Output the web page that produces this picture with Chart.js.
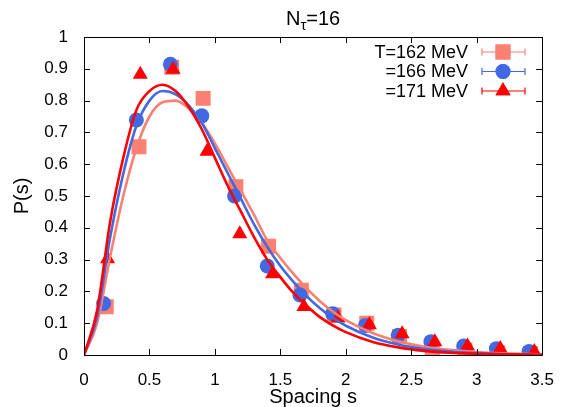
<!DOCTYPE html>
<html>
<head>
<meta charset="utf-8">
<script src="https://cdn.jsdelivr.net/npm/chart.js@4/dist/chart.umd.min.js"></script>
<style>
  html, body { margin: 0; padding: 0; background: #fff; }
  #wrap { width: 561px; height: 407px; }
</style>
</head>
<body>
<div id="wrap"><canvas id="spacingChart" width="561" height="407"></canvas></div>
<script>
// measured points (spacing s, P(s)) for each temperature
const s162 = [0.17, 0.42, 0.67, 0.91, 1.16, 1.41, 1.66, 1.91, 2.16, 2.41, 2.66, 2.91, 3.16, 3.41];
const p162 = [0.152, 0.655, 0.905, 0.807, 0.529, 0.342, 0.204, 0.126, 0.100, 0.058, 0.020, 0.015, 0.007, 0.005];
const s166 = [0.15, 0.40, 0.66, 0.90, 1.15, 1.40, 1.65, 1.90, 2.15, 2.40, 2.65, 2.90, 3.15, 3.40];
const p166 = [0.162, 0.739, 0.914, 0.752, 0.500, 0.280, 0.189, 0.130, 0.093, 0.062, 0.042, 0.028, 0.020, 0.011];
const s171 = [0.18, 0.43, 0.68, 0.94, 1.19, 1.44, 1.68, 1.94, 2.18, 2.43, 2.68, 2.93, 3.18, 3.44];
const p171 = [0.302, 0.882, 0.898, 0.640, 0.381, 0.255, 0.152, 0.116, 0.095, 0.066, 0.041, 0.028, 0.020, 0.010];

// fit curves
const fitS   = [0, 0.1, 0.2, 0.3, 0.4, 0.5, 0.6, 0.7, 0.8, 0.9, 1.0, 1.1, 1.2, 1.3, 1.4, 1.5, 1.6, 1.7, 1.8, 1.9, 2.0, 2.2, 2.4, 2.6, 2.8, 3.0, 3.2, 3.5];
const fit162 = [0, 0.10, 0.31, 0.50, 0.65, 0.75, 0.795, 0.80, 0.775, 0.73, 0.665, 0.59, 0.515, 0.44, 0.36, 0.305, 0.255, 0.21, 0.17, 0.137, 0.11, 0.07, 0.043, 0.026, 0.016, 0.009, 0.005, 0.002];
const fit166 = [0, 0.12, 0.37, 0.57, 0.72, 0.80, 0.83, 0.82, 0.785, 0.73, 0.65, 0.57, 0.49, 0.41, 0.34, 0.28, 0.23, 0.185, 0.148, 0.117, 0.092, 0.056, 0.033, 0.019, 0.011, 0.006, 0.003, 0.001];
const fit171 = [0, 0.14, 0.42, 0.62, 0.77, 0.83, 0.85, 0.83, 0.78, 0.71, 0.62, 0.53, 0.45, 0.37, 0.30, 0.245, 0.195, 0.155, 0.12, 0.093, 0.072, 0.042, 0.024, 0.013, 0.007, 0.004, 0.002, 0.001];

const xTicks = [0, 0.5, 1, 1.5, 2, 2.5, 3, 3.5];
const yTicks = [0, 0.1, 0.2, 0.3, 0.4, 0.5, 0.6, 0.7, 0.8, 0.9, 1];
const legendLabels = ['T=162 MeV', '=166 MeV', '=171 MeV'];

const SALMON = '#fa8072';
const BLUE = '#4169e1';
const RED = '#ff0000';
const FONT = '"Liberation Sans", Arial, Helvetica, sans-serif';

const toPts = (xs, ys) => xs.map((x, i) => ({ x: x, y: ys[i] }));

// frame, inward ticks on all four sides, title and legend
const framePlugin = {
  id: 'frame',
  afterDraw(chart) {
    const ctx = chart.ctx;
    const a = chart.chartArea;
    const xs = chart.scales.x, ys = chart.scales.y;
    ctx.save();
    ctx.strokeStyle = '#000';
    ctx.lineWidth = 1;
    ctx.beginPath();
    ctx.rect(Math.round(a.left) + 0.5, Math.round(a.top) + 0.5, Math.round(a.right - a.left), Math.round(a.bottom - a.top));
    const tl = 6;
    xTicks.forEach(v => {
      const px = Math.round(xs.getPixelForValue(v)) + 0.5;
      ctx.moveTo(px, a.bottom); ctx.lineTo(px, a.bottom - tl);
      ctx.moveTo(px, a.top); ctx.lineTo(px, a.top + tl);
    });
    yTicks.forEach(v => {
      const py = Math.round(ys.getPixelForValue(v)) + 0.5;
      ctx.moveTo(a.left, py); ctx.lineTo(a.left + tl, py);
      ctx.moveTo(a.right, py); ctx.lineTo(a.right - tl, py);
    });
    ctx.stroke();

    // title N_tau=16
    ctx.fillStyle = '#000';
    ctx.textBaseline = 'alphabetic';
    ctx.textAlign = 'left';
    const big = '20px ' + FONT, small = '15px ' + FONT;
    ctx.font = big; const wN = ctx.measureText('N').width; const wEq = ctx.measureText('=16').width;
    ctx.font = small; const wT = ctx.measureText('τ').width;
    let tx = (a.left + a.right) / 2 - (wN + wT + wEq) / 2;
    const ty = 25;
    ctx.font = big; ctx.fillText('N', tx, ty); tx += wN;
    ctx.font = small; ctx.fillText('τ', tx, ty + 5); tx += wT;
    ctx.font = big; ctx.fillText('=16', tx, ty);

    // legend
    const cols = [SALMON, BLUE, RED];
    const shapes = ['rect', 'circle', 'triangle'];
    const rows = [52, 71.5, 91];
    ctx.font = '18px ' + FONT;
    ctx.textAlign = 'right';
    ctx.textBaseline = 'middle';
    rows.forEach((y, i) => {
      ctx.fillStyle = '#000';
      ctx.fillText(legendLabels[i], 468, y + 1);
      ctx.strokeStyle = cols[i];
      ctx.lineWidth = 1.2;
      ctx.beginPath();
      ctx.moveTo(482, y); ctx.lineTo(525, y);
      ctx.moveTo(482, y - 3.5); ctx.lineTo(482, y + 3.5);
      ctx.moveTo(525, y - 3.5); ctx.lineTo(525, y + 3.5);
      ctx.stroke();
      ctx.fillStyle = cols[i];
      const r = i === 0 ? 10.6 : (i === 1 ? 7.5 : 8.7);
      Chart.helpers.drawPoint(ctx, { pointStyle: shapes[i], radius: r, rotation: 0, borderWidth: 0 }, 503, y);
      ctx.fill();
    });
    ctx.restore();
  }
};

const ctx = document.getElementById('spacingChart').getContext('2d');
const spacingChart = new Chart(ctx, {
  type: 'scatter',
  data: {
    datasets: [
      { label: 'fit 171', data: toPts(fitS, fit171), showLine: true, borderColor: RED, borderWidth: 2.6, pointRadius: 0, cubicInterpolationMode: 'monotone', order: 0 },
      { label: 'fit 166', data: toPts(fitS, fit166), showLine: true, borderColor: BLUE, borderWidth: 2.6, pointRadius: 0, cubicInterpolationMode: 'monotone', order: 1 },
      { label: 'fit 162', data: toPts(fitS, fit162), showLine: true, borderColor: SALMON, borderWidth: 2.6, pointRadius: 0, cubicInterpolationMode: 'monotone', order: 2 },
      { label: legendLabels[2], data: toPts(s171, p171), pointStyle: 'triangle', pointRadius: 8.7, backgroundColor: RED, borderWidth: 0, order: 3 },
      { label: legendLabels[1], data: toPts(s166, p166), pointStyle: 'circle', pointRadius: 7.5, backgroundColor: BLUE, borderWidth: 0, order: 4 },
      { label: legendLabels[0], data: toPts(s162, p162), pointStyle: 'rect', pointRadius: 10.6, backgroundColor: SALMON, borderWidth: 0, order: 5 }
    ]
  },
  options: {
    responsive: false,
    animation: false,
    events: [],
    layout: { padding: { top: 37, right: 16, left: 0, bottom: 0 } },
    plugins: {
      legend: { display: false },
      tooltip: { enabled: false },
      title: { display: false }
    },
    scales: {
      x: {
        type: 'linear',
        min: 0, max: 3.5,
        afterFit(scale) { scale.height = 52; },
        afterBuildTicks(scale) { scale.ticks = xTicks.map(v => ({ value: v })); },
        grid: { display: false },
        border: { display: false },
        ticks: { color: '#000', padding: 7, maxRotation: 0, font: { family: FONT, size: 17 }, callback: v => String(+v.toFixed(1)) },
        title: { display: true, text: 'Spacing s', color: '#000', font: { family: FONT, size: 20, lineHeight: 1 }, padding: { top: 0, bottom: 0 } }
      },
      y: {
        type: 'linear',
        min: 0, max: 1,
        afterFit(scale) { scale.width = 84; },
        afterBuildTicks(scale) { scale.ticks = yTicks.map(v => ({ value: v })); },
        grid: { display: false },
        border: { display: false },
        ticks: { color: '#000', padding: 8, font: { family: FONT, size: 17 }, callback: v => String(+v.toFixed(1)) },
        title: { display: true, text: 'P(s)', color: '#000', font: { family: FONT, size: 20, lineHeight: 1 }, padding: { top: 12, bottom: 0 } }
      }
    }
  },
  plugins: [framePlugin]
});
</script>
</body>
</html>
